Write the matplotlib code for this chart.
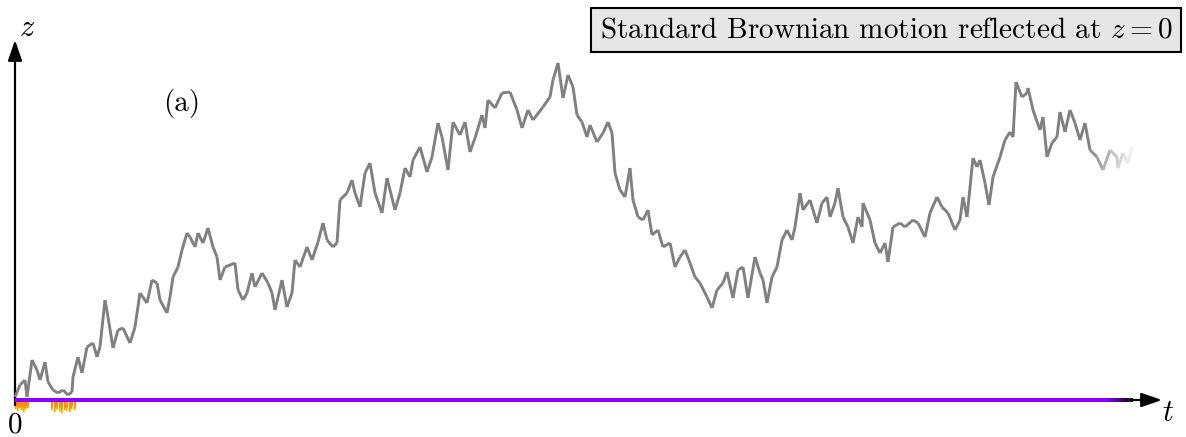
import numpy as np
import matplotlib.pyplot as plt
from matplotlib.collections import LineCollection

plt.rcParams['font.family'] = 'cmr10'
plt.rcParams['mathtext.fontset'] = 'cm'

# reflected Brownian path, sampled along the time axis
t = [0, 5, 10, 12, 17, 22, 25, 30, 33, 38, 43, 48, 53, 57, 58, 63, 67, 72, 78, 82,
     85, 90, 93, 98, 103, 108, 115, 120, 125, 132, 137, 142, 145, 152, 155, 158, 163,
     167, 172, 175, 180, 183, 188, 193, 198, 202, 205, 210, 220, 223, 228, 232, 237,
     240, 247, 253, 257, 260, 267, 272, 277, 280, 285, 292, 297, 303, 308, 312, 318,
     322, 325, 332, 337, 340, 345, 350, 355, 360, 367, 372, 380, 385, 390, 395, 398,
     405, 412, 417, 423, 427, 433, 438, 445, 450, 455, 460, 467, 470, 473, 480, 487,
     495, 502, 507, 513, 518, 528, 535, 538, 543, 548, 553, 558, 562, 567, 572, 575,
     582, 588, 593, 597, 600, 605, 610, 615, 618, 623, 628, 633, 637, 643, 648, 655,
     660, 665, 670, 675, 680, 685, 692, 697, 702, 708, 712, 718, 723, 728, 733, 740,
     745, 748, 752, 757, 762, 767, 772, 777, 780, 785, 788, 795, 802, 807, 812, 815,
     820, 823, 828, 833, 838, 843, 847, 848, 855, 860, 865, 870, 873, 878, 885, 890,
     898, 903, 910, 915, 922, 927, 933, 940, 945, 948, 952, 958, 962, 965, 970, 974,
     978, 985, 990, 995, 998, 1001, 1007, 1012, 1013, 1018, 1025, 1028, 1032, 1037,
     1042, 1045, 1050, 1055, 1060, 1065, 1070, 1075, 1082, 1088, 1095, 1102, 1103,
     1108, 1113, 1117, 1118]
z = [3, 15, 20, 3, 40, 30, 20, 38, 18, 10, 7, 10, 5, 8, 23, 43, 27, 53, 57, 43,
     53, 100, 83, 52, 70, 72, 57, 73, 107, 97, 120, 117, 100, 87, 103, 123, 133,
     150, 167, 163, 153, 167, 157, 172, 153, 143, 120, 133, 137, 110, 100, 107, 127,
     113, 127, 117, 107, 90, 120, 93, 107, 140, 133, 153, 140, 158, 177, 160, 153,
     157, 200, 207, 220, 207, 193, 227, 237, 207, 187, 222, 190, 207, 232, 223, 240,
     253, 228, 243, 277, 263, 230, 278, 265, 278, 248, 262, 285, 272, 300, 292, 307,
     308, 290, 272, 290, 280, 293, 303, 320, 337, 302, 325, 313, 285, 278, 263, 275,
     258, 267, 278, 267, 227, 210, 203, 232, 200, 183, 180, 190, 165, 170, 153, 157,
     133, 143, 150, 137, 123, 117, 103, 92, 110, 117, 128, 102, 130, 133, 102, 143,
     127, 120, 97, 123, 133, 160, 170, 160, 173, 207, 190, 200, 177, 197, 203, 183,
     197, 212, 183, 173, 157, 183, 173, 197, 180, 157, 147, 157, 138, 173, 177, 173,
     180, 177, 163, 187, 203, 193, 187, 170, 180, 203, 183, 242, 233, 240, 217, 195,
     223, 243, 260, 268, 263, 318, 303, 307, 312, 290, 270, 283, 243, 257, 263, 288,
     268, 290, 277, 260, 277, 250, 243, 230, 250, 243, 232, 247, 237, 253, 247]

# local time at the boundary: contact times and tick depths
contact_t = [1, 3, 5, 7, 9, 11, 13, 37, 40, 42, 45, 47, 50, 52, 55, 57, 60]
contact_d = [7, 9, 6, 8, 10, 7, 6, 8, 10, 7, 9, 11, 8, 9, 10, 7, 8]

fig = plt.figure(figsize=(11.86, 4.37), dpi=100)
ax = fig.add_axes([0, 0, 1, 1])
ax.set_xlim(-15, 1171)
ax.set_ylim(-37, 400)
ax.axis('off')

arrow = dict(arrowstyle='-|>,head_length=1.25,head_width=0.43',
             color='black', lw=1.6, shrinkA=0, shrinkB=0)
# x axis (black under the purple boundary line)
ax.annotate('', xy=(1147, 0), xytext=(0, 0), arrowprops=arrow)
# y axis
ax.annotate('', xy=(0, 360), xytext=(0, -5), arrowprops=arrow)

# boundary z = 0, purple fading into black
bt = np.linspace(0, 1118, 400)
bpts = np.column_stack([bt, np.zeros_like(bt)]).reshape(-1, 1, 2)
bsegs = np.concatenate([bpts[:-1], bpts[1:]], axis=1)
purple = np.array([0.545, 0.0, 1.0])
fb = np.clip((bt[:-1] - 1090) / 28, 0, 1)[:, None]
bcols = purple * (1 - fb)
ax.add_collection(LineCollection(bsegs, colors=bcols, linewidths=2.9,
                                 capstyle='butt', zorder=3))

# ticks of local time under the boundary
ax.vlines(contact_t, [-2] * len(contact_t), [-2 - d for d in contact_d],
          colors='#ff8c00', lw=1.4, zorder=2)
ax.vlines(contact_t, [-2 - 0.6 * d for d in contact_d], [-2 - d for d in contact_d],
          colors='#ffd21f', lw=1.0, zorder=2)

# the path, fading out at its end
pts = np.column_stack([t, z]).reshape(-1, 1, 2)
segs = np.concatenate([pts[:-1], pts[1:]], axis=1)
tm = 0.5 * (np.array(t[:-1]) + np.array(t[1:]))
f = np.clip((tm - 1072) / 46, 0, 1)
g = 0.5 + 0.46 * f
cols = np.column_stack([g, g, g])
ax.add_collection(LineCollection(segs, colors=cols, linewidths=2.1,
                                 joinstyle='miter', zorder=4))

ax.text(0, -25, '0', fontsize=21, ha='center', va='center')
ax.text(1153, -13, '$t$', fontsize=22, ha='center', va='center')
ax.text(12, 372, '$z$', fontsize=22, ha='center', va='center')
ax.text(167, 296, '(a)', fontsize=21, ha='center', va='center')
ax.text(871, 370, 'Standard Brownian motion reflected at $z=0$', fontsize=21,
        ha='center', va='center',
        bbox=dict(boxstyle='square,pad=0.3', fc='#e6e6e6', ec='black', lw=1.5))

fig.savefig('out.png', dpi=100)
